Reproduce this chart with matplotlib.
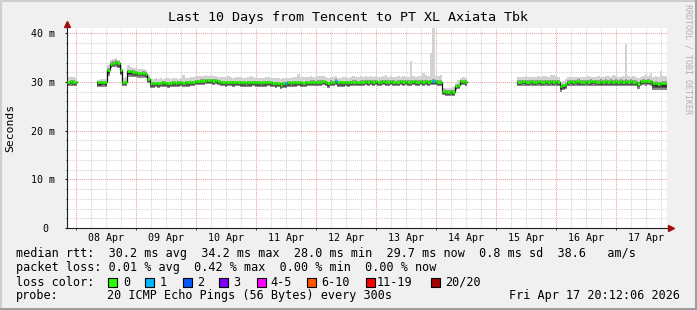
import numpy as np
import pandas as pd
import matplotlib
matplotlib.use("Agg")
import matplotlib.pyplot as plt
import matplotlib.dates as mdates
from matplotlib.patches import Rectangle

nan = np.nan
W, H = 697, 310
MONO = "DejaVu Sans Mono"

# ---------------- data (hourly, starting 2026-04-07 20:12:06) ----------------
start_time = "2026-04-07 20:12:06"

median_rtt = [
    30.0, 30.2, 30.1, 30.0, nan, nan, nan, nan, nan, nan, nan, nan, 29.9, 29.9, 30.0, 29.9, 32.5, 33.8, 34.0, 34.2, 33.9, 32.4, 30.0, 30.0,
    32.2, 32.2, 32.1, 32.0, 31.8, 31.8, 31.9, 31.7, 30.7, 29.7, 29.7, 29.8, 29.7, 29.8, 29.9, 29.8, 29.7, 29.8, 29.9, 29.8, 29.9, 30.0, 29.8, 29.9,
    29.9, 30.0, 30.0, 30.2, 30.2, 30.3, 30.3, 30.4, 30.4, 30.4, 30.3, 30.4, 30.2, 30.0, 30.0, 29.9, 30.0, 30.0, 29.9, 30.0, 30.0, 29.9, 29.9, 29.8,
    29.9, 29.9, 30.0, 29.9, 29.9, 29.8, 29.9, 29.9, 30.0, 29.9, 29.8, 29.7, 29.8, 29.4, 29.7, 29.7, 29.9, 29.8, 29.9, 29.9, 30.0, 29.9, 29.8, 29.9,
    30.0, 30.1, 30.1, 30.0, 30.1, 30.1, 30.2, 30.0, 29.7, 30.1, 30.0, 30.3, 29.9, 29.9, 29.9, 30.0, 29.9, 30.0, 30.1, 30.1, 30.0, 30.1, 30.1, 30.2,
    30.1, 30.2, 30.1, 30.2, 30.0, 30.1, 30.2, 30.1, 30.1, 30.2, 30.1, 30.0, 30.1, 30.2, 30.1, 30.2, 30.1, 30.1, 30.2, 30.1, 30.1, 30.2, 30.1, 30.2,
    30.1, 30.2, 30.3, 30.2, 30.1, 30.1, 28.2, 28.0, 28.0, 28.1, 28.0, 29.2, 29.3, 30.2, 30.2, 30.1, nan, nan, nan, nan, nan, nan, nan, nan,
    nan, nan, nan, nan, nan, nan, nan, nan, nan, nan, nan, nan, 30.1, 30.1, 30.2, 30.1, 30.1, 30.2, 30.1, 30.1, 30.2, 30.1, 30.1, 30.2,
    30.1, 30.2, 30.1, 30.2, 30.1, 29.1, 29.3, 29.5, 30.1, 30.2, 30.1, 30.2, 30.2, 30.1, 30.1, 30.2, 30.1, 30.2, 30.2, 30.1, 30.1, 30.2, 30.1, 30.2,
    30.1, 30.2, 30.1, 30.2, 30.1, 30.2, 30.1, 30.2, 30.1, 30.2, 30.1, 30.1, 29.6, 30.2, 30.3, 30.2, 30.3, 30.2, 29.7, 29.7, 29.6, 29.7, 29.7, 29.7,
]

smoke_max = [
    31.0, 31.1, 31.0, 30.9, nan, nan, nan, nan, nan, nan, nan, nan, 30.5, 30.6, 30.7, 30.6, 33.5, 34.6, 34.8, 34.9, 34.6, 33.2, 30.9, 31.0,
    33.4, 33.0, 32.8, 32.8, 32.7, 32.6, 32.7, 32.5, 31.5, 30.6, 30.7, 30.9, 30.6, 30.8, 30.7, 30.8, 30.9, 30.6, 30.8, 30.9, 30.7, 30.9, 31.4, 30.8,
    30.9, 31.0, 31.0, 31.2, 31.3, 31.2, 31.3, 31.4, 31.3, 31.4, 31.2, 31.3, 31.1, 31.0, 31.1, 31.0, 31.2, 31.0, 30.9, 31.0, 31.1, 31.0, 30.9, 30.8,
    31.0, 31.2, 31.1, 30.9, 30.9, 30.8, 30.9, 31.0, 31.1, 30.9, 30.8, 30.8, 30.9, 30.6, 30.8, 30.8, 30.9, 30.9, 31.0, 31.1, 31.6, 31.0, 31.0, 31.0,
    31.1, 31.2, 31.1, 31.0, 31.2, 31.3, 31.2, 31.0, 30.8, 31.1, 31.0, 31.2, 30.9, 30.9, 31.0, 31.1, 30.9, 31.1, 31.2, 31.0, 31.1, 31.2, 31.1, 31.2,
    31.1, 31.2, 31.1, 31.3, 31.0, 31.1, 31.2, 31.5, 31.1, 31.2, 31.1, 31.0, 31.2, 31.1, 31.2, 31.1, 31.1, 34.3, 31.2, 31.1, 31.2, 31.3, 31.9, 31.4,
    31.2, 36.0, 41.5, 31.2, 31.2, 31.5, 28.8, 28.7, 28.8, 28.7, 28.9, 30.1, 30.4, 30.9, 31.0, 30.9, nan, nan, nan, nan, nan, nan, nan, nan,
    nan, nan, nan, nan, nan, nan, nan, nan, nan, nan, nan, nan, 31.0, 31.1, 31.0, 31.2, 31.0, 31.1, 31.0, 31.1, 31.2, 31.1, 31.2, 31.3,
    31.0, 31.5, 31.5, 31.2, 31.1, 29.8, 30.2, 30.6, 31.0, 31.1, 31.0, 31.1, 31.1, 31.0, 31.1, 31.0, 31.2, 31.1, 31.0, 31.1, 31.2, 31.0, 31.1, 31.2,
    31.3, 31.1, 31.4, 31.2, 31.0, 31.1, 31.3, 37.9, 31.2, 31.1, 31.2, 31.0, 30.9, 31.1, 31.3, 31.6, 31.2, 31.9, 31.0, 31.2, 31.1, 32.3, 31.3, 31.2,
]

smoke_min = [
    29.1, 29.2, 29.2, 29.1, nan, nan, nan, nan, nan, nan, nan, nan, 28.9, 28.9, 29.0, 28.9, 31.2, 32.9, 33.0, 33.1, 32.8, 31.4, 29.1, 29.1,
    31.1, 31.1, 31.0, 31.0, 30.9, 30.9, 30.9, 30.8, 29.8, 28.8, 28.8, 28.9, 28.8, 28.9, 29.0, 28.9, 28.8, 28.9, 29.0, 28.9, 29.0, 29.1, 28.9, 29.0,
    29.0, 29.1, 29.1, 29.3, 29.3, 29.4, 29.4, 29.5, 29.5, 29.5, 29.4, 29.5, 29.3, 29.1, 29.1, 29.0, 29.1, 29.1, 29.0, 29.1, 29.1, 29.0, 29.0, 28.9,
    29.0, 29.0, 29.1, 29.0, 29.0, 28.9, 29.0, 29.0, 29.1, 29.0, 28.9, 28.8, 28.9, 28.6, 28.8, 28.8, 29.0, 28.9, 29.0, 29.0, 29.1, 29.0, 28.9, 29.0,
    29.1, 29.2, 29.2, 29.1, 29.2, 29.2, 29.3, 29.1, 28.8, 29.2, 29.1, 29.3, 29.0, 29.0, 29.0, 29.1, 29.0, 29.1, 29.2, 29.2, 29.1, 29.2, 29.2, 29.3,
    29.2, 29.3, 29.2, 29.3, 29.1, 29.2, 29.3, 29.2, 29.2, 29.3, 29.2, 29.1, 29.2, 29.3, 29.2, 29.3, 29.2, 29.2, 29.3, 29.2, 29.2, 29.3, 29.2, 29.3,
    29.2, 29.3, 29.4, 29.3, 29.2, 29.2, 27.3, 27.1, 27.1, 27.2, 27.1, 28.3, 28.5, 29.3, 29.3, 29.2, nan, nan, nan, nan, nan, nan, nan, nan,
    nan, nan, nan, nan, nan, nan, nan, nan, nan, nan, nan, nan, 29.1, 29.2, 29.2, 29.1, 29.2, 29.2, 29.1, 29.2, 29.2, 29.1, 29.2, 29.2,
    29.1, 29.2, 29.1, 29.2, 29.1, 28.0, 28.3, 28.6, 29.1, 29.2, 29.1, 29.2, 29.1, 29.2, 29.1, 29.2, 29.2, 29.1, 29.2, 29.2, 29.1, 29.1, 29.2, 29.1,
    29.2, 29.1, 29.2, 29.1, 29.2, 29.1, 29.2, 29.1, 29.2, 29.1, 29.2, 29.1, 28.6, 29.2, 29.3, 29.2, 29.3, 29.2, 28.4, 28.3, 28.3, 28.4, 28.3, 28.3,
]

# hour index -> pings lost (out of 20)
loss_hours = [87, 107, 146]
loss_pings = [1, 1, 1]

loss_labels = ["0", "1", "2", "3", "4-5", "6-10", "11-19", "20/20"]
loss_colors = ["#26ff00", "#00b8ff", "#0059ff", "#7e00ff", "#ff00ff", "#ff5500", "#ff0000", "#a10000"]
loss_bounds = [0, 1, 2, 3, 5, 10, 19, 20]   # upper bound of each bin

day_labels = ["08 Apr", "09 Apr", "10 Apr", "11 Apr", "12 Apr", "13 Apr", "14 Apr", "15 Apr", "16 Apr", "17 Apr"]
y_ticks = [0, 10, 20, 30, 40]
y_ticklabels = ["0 ", "10 m", "20 m", "30 m", "40 m"]

title = "Last 10 Days from Tencent to PT XL Axiata Tbk"
row_rtt = "median rtt:  30.2 ms avg  34.2 ms max  28.0 ms min  29.7 ms now  0.8 ms sd  38.6   am/s"
row_loss = "packet loss: 0.01 % avg  0.42 % max  0.00 % min  0.00 % now"
probe_text = "20 ICMP Echo Pings (56 Bytes) every 300s"
stamp_text = "Fri Apr 17 20:12:06 2026"

assert len(median_rtt) == len(smoke_max) == len(smoke_min) == 240

# ---------------- figure ----------------
fig = plt.figure(figsize=(W / 100, H / 100), dpi=100, facecolor="#f0f0f0")

def fx(px):
    return px / W

def fy(py):
    return 1 - py / H

# 3D shade border
fig.add_artist(plt.Line2D([0, 1], [fy(0.5), fy(0.5)], transform=fig.transFigure, color="#cfcfcf", lw=1.5))
fig.add_artist(plt.Line2D([fx(0.5), fx(0.5)], [0, 1], transform=fig.transFigure, color="#cfcfcf", lw=1.5))
fig.add_artist(plt.Line2D([0, 1], [fy(H - 1), fy(H - 1)], transform=fig.transFigure, color="#9e9e9e", lw=1.5))
fig.add_artist(plt.Line2D([fx(W - 1), fx(W - 1)], [0, 1], transform=fig.transFigure, color="#9e9e9e", lw=1.5))

ax = fig.add_axes([fx(67), fy(228), fx(600), (228 - 27.5) / H])
ax.set_facecolor("white")

t0 = pd.Timestamp(start_time)
t_end = t0 + pd.Timedelta(days=10)
n = len(median_rtt)
edges = mdates.date2num(pd.date_range(t0, periods=n + 1, freq="h").to_pydatetime())

med = np.asarray(median_rtt, float)
smax = np.asarray(smoke_max, float)
smin = np.asarray(smoke_min, float)

xs = np.repeat(edges, 2)[1:-1]

def st(v):
    return np.repeat(v, 2)

# grid
for t in pd.date_range("2026-04-08 00:00", "2026-04-17 18:00", freq="6h"):
    major = t.hour == 0
    ax.axvline(mdates.date2num(t.to_pydatetime()), color="#e8a0a0" if major else "#d2d2d2",
               lw=0.75, ls=(0, (1, 1)), zorder=0.5)
for v in range(2, 42, 2):
    ax.axhline(v, color="#e8a0a0" if v % 10 == 0 else "#d2d2d2", lw=0.75, ls=(0, (1, 1)), zorder=0.5)

# smoke (outer light band, darker shades close to the median)
lower_spread = med - smin
ax.fill_between(xs, st(smin), st(smax), color="#d2d2d2", lw=0, zorder=1)
ax.fill_between(xs, st(med), st(med + 0.3 * lower_spread), color="#9a9a9a", lw=0, zorder=1.1)
ax.fill_between(xs, st(smin), st(med), color="#8a8a8a", lw=0, zorder=1.2)
ax.fill_between(xs, st(med - 0.7 * lower_spread), st(med), color="#555555", lw=0, zorder=1.3)
ax.fill_between(xs, st(med - 0.45 * lower_spread), st(med), color="#303030", lw=0, zorder=1.4)

# median line
ax.plot(xs, st(med), color="#101010", lw=0.9, zorder=2)
loss = np.zeros(n, int)
for hidx, p in zip(loss_hours, loss_pings):
    loss[hidx] = p
col_per_hour = [loss_colors[np.searchsorted(loss_bounds, p)] for p in loss]
ax.hlines(med, edges[:-1], edges[1:], colors=col_per_hour, lw=1.9, zorder=3)

ax.set_xlim(mdates.date2num(t0.to_pydatetime()), mdates.date2num(t_end.to_pydatetime()))
ax.set_ylim(0, 41.2)

# ticks
noons = [mdates.date2num((pd.Timestamp("2026-04-08 12:00") + pd.Timedelta(days=i)).to_pydatetime()) for i in range(10)]
mids = [mdates.date2num((pd.Timestamp("2026-04-08 00:00") + pd.Timedelta(days=i)).to_pydatetime()) for i in range(10)]
ax.set_xticks(noons)
ax.set_xticklabels(day_labels, family=MONO, fontsize=7.2)
ax.set_xticks(mids, minor=True)
ax.tick_params(axis="x", which="major", length=0, pad=3.5)
ax.tick_params(axis="x", which="minor", length=1.5, direction="out", color="#202020")
ax.set_yticks(y_ticks)
ax.set_yticklabels(y_ticklabels, family=MONO, fontsize=7.2)
ax.set_yticks(np.arange(2, 42, 2), minor=True)
ax.tick_params(axis="y", which="major", length=1.5, direction="out", pad=7.1, color="#202020")
ax.tick_params(axis="y", which="minor", length=1.0, direction="out", color="#202020")

for s in ["top", "right"]:
    ax.spines[s].set_visible(False)
for s in ["left", "bottom"]:
    ax.spines[s].set_color("#202020")
    ax.spines[s].set_linewidth(0.8)

# arrows
ax.plot([0], [1 + 3.5 / 200.5], marker="^", ms=5, color="#a01010", transform=ax.transAxes, clip_on=False, zorder=5)
ax.plot([1 + 3.5 / 600], [0], marker=">", ms=5, color="#a01010", transform=ax.transAxes, clip_on=False, zorder=5)

# texts
fig.text(fx(348), fy(18), title, ha="center", va="center", family=MONO, fontsize=9.6, color="black")
fig.text(fx(10), fy(128), "Seconds", ha="center", va="center", rotation=90, family=MONO, fontsize=8.2)
fig.text(fx(688), fy(4), "RRDTOOL / TOBI OETIKER", ha="center", va="top", rotation=270,
         family=MONO, fontsize=6, color="#b0b0b0")

fig.text(fx(16), fy(254), row_rtt, ha="left", va="center", family=MONO, fontsize=8.5)
fig.text(fx(16), fy(268), row_loss, ha="left", va="center", family=MONO, fontsize=8.5)
fig.text(fx(16), fy(282), "loss color:", ha="left", va="center", family=MONO, fontsize=8.5)
box_x = [108, 145, 183, 219, 257, 307, 366, 431]
lab_x = [123, 160, 197, 233, 270, 321, 377, 445]
for bx, lx, lab, c in zip(box_x, lab_x, loss_labels, loss_colors):
    fig.add_artist(Rectangle((fx(bx), fy(286.5)), 8.5 / W, 8.5 / H, transform=fig.transFigure,
                             facecolor=c, edgecolor="black", lw=0.8))
    fig.text(fx(lx), fy(282), lab, ha="left", va="center", family=MONO, fontsize=8.5)

fig.text(fx(16), fy(296), "probe:", ha="left", va="center", family=MONO, fontsize=8.5)
fig.text(fx(107), fy(296), probe_text, ha="left", va="center", family=MONO, fontsize=8.5)
fig.text(fx(680), fy(296), stamp_text, ha="right", va="center", family=MONO, fontsize=8.5)

fig.savefig("out.png", dpi=100, facecolor=fig.get_facecolor())
